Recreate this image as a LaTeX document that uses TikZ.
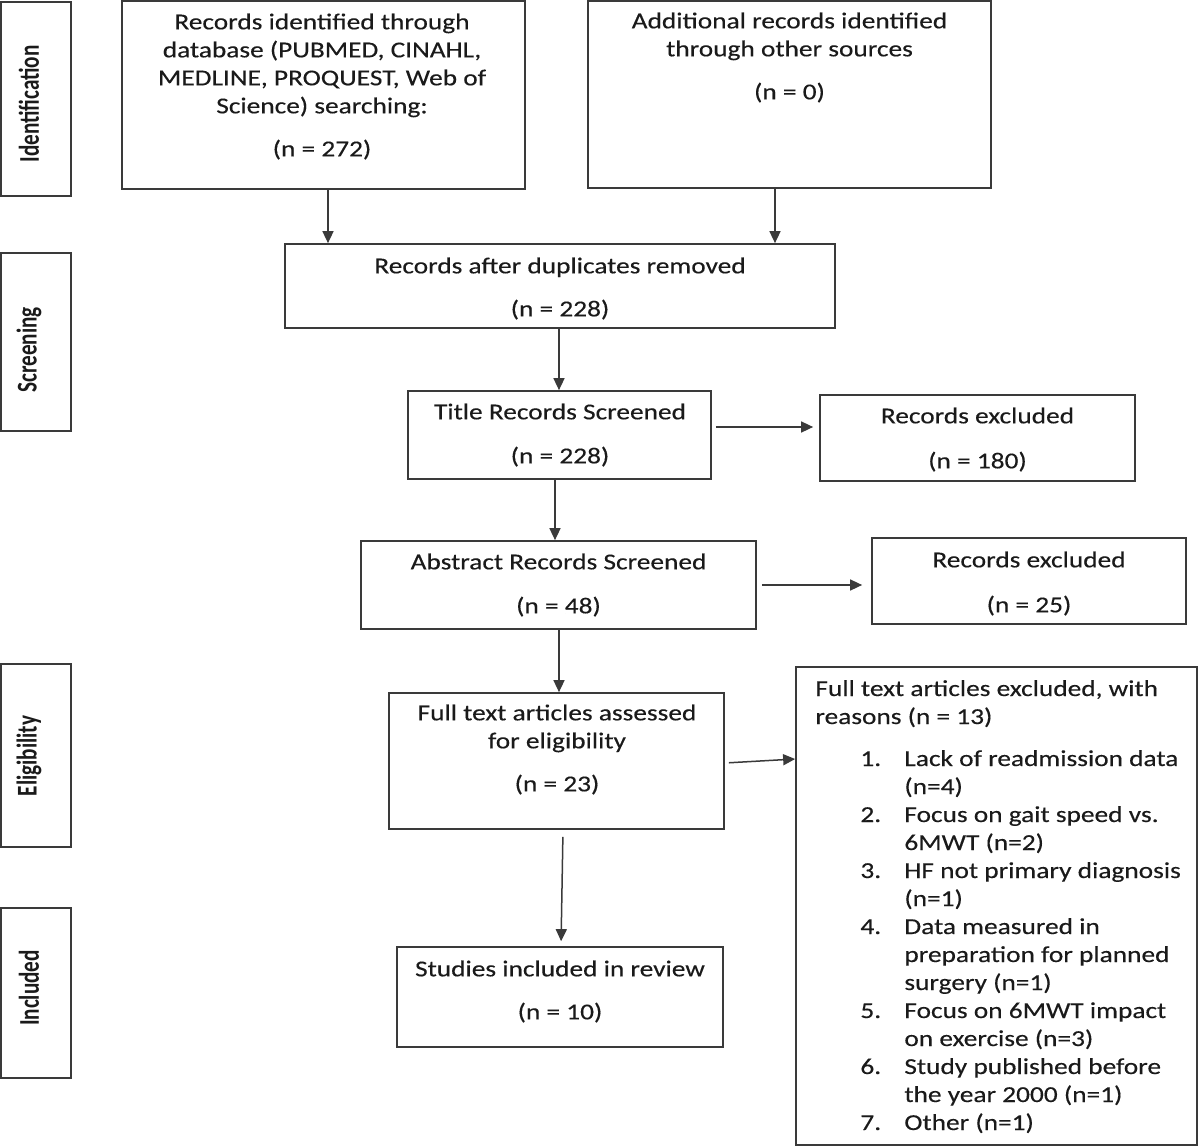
\documentclass[tikz,border=0pt]{standalone}
\usepackage{graphicx}
\usepackage{fontspec}
\setmainfont{Carlito}[FakeStretch=1.2,FakeBold=0.3]
\newfontfamily\sidefont{Carlito}
\usetikzlibrary{arrows.meta,fit}
\definecolor{linec}{HTML}{3A3A3A}
\definecolor{textc}{HTML}{1A1A1A}
\begin{document}
\begin{tikzpicture}[x=0.5pt,y=-0.5pt,
  box/.style={draw=linec, line width=0.85pt, inner sep=0pt},
  side/.style={draw=linec, line width=1pt, inner sep=0pt},
  txt/.style={text=textc, align=center, inner sep=0pt, font=\fontsize{11.4}{14}\selectfont},
  txtl/.style={text=textc, inner sep=0pt, font=\fontsize{11.4}{14}\selectfont},
  sidetxt/.style={text=textc, inner sep=0pt, rotate=90, font=\sidefont\bfseries\fontsize{10.6}{12}\selectfont},
  arr/.style={draw=linec, line width=0.75pt, -{Triangle[length=6pt,width=5.5pt]}}]
\path[use as bounding box] (0,0) rectangle (1200,1146);

% phase labels
\node[side, fit={(1,2)(71,196)}] (sid) {};
\node[sidetxt] (sid-t) at (29,104) {\scalebox{1}[1.35]{Identification}};
\node[side, fit={(1,253)(71,431)}] (scr) {};
\node[sidetxt] (scr-t) at (29,350) {\scalebox{1}[1.35]{Screening}};
\node[side, fit={(1,664)(71,847)}] (eli) {};
\node[sidetxt] (eli-t) at (29,756) {\scalebox{1}[1.35]{Eligibility}};
\node[side, fit={(1,908)(71,1078)}] (inc) {};
\node[sidetxt] (inc-t) at (29,988) {\scalebox{1}[1.35]{Included}};

% boxes
\node[box, fit={(122,1)(525,189)}] (db) {};
\node[box, fit={(588,1)(991,188)}] (add) {};
\node[box, fit={(285,244)(835,328)}] (dup) {};
\node[box, fit={(408,391)(711,479)}] (title) {};
\node[box, fit={(820,395)(1135,481)}] (ex1) {};
\node[box, fit={(361,541)(756,629)}] (abs) {};
\node[box, fit={(872,538)(1186,624)}] (ex2) {};
\node[box, fit={(389,693)(724,829)}] (full) {};
\node[box, fit={(796,667)(1197,1145)}] (ex3) {};
\node[box, fit={(397,947)(723,1047)}] (stud) {};

% texts
\node[txt] (db-t) at (322,86.5) {Records identified through\\database (PUBMED, CINAHL,\\MEDLINE, PROQUEST, Web of\\Science) searching:\\[7.5pt](n = 272)};
\node[txt] (add-t) at (789.5,57.5) {Additional records identified\\through other sources\\[7.5pt](n = 0)};
\node[txt] (dup-t) at (560,288.5) {Records after duplicates removed\\[7.5pt](n = 228)};
\node[txt] (title-t) at (560,435) {Title Records Screened\\[8pt](n = 228)};
\node[txt] (abs-t) at (558.5,585) {Abstract Records Screened\\[8pt](n = 48)};
\node[txt] (ex1-t) at (977.5,439.5) {Records excluded\\[8.5pt](n = 180)};
\node[txt] (ex2-t) at (1029,583.5) {Records excluded\\[8.5pt](n = 25)};
\node[txt] (full-t) at (557,749.5) {Full text articles assessed\\for eligibility\\[7.5pt](n = 23)};
\node[txt] (stud-t) at (560,991.5) {Studies included in review\\[7.5pt](n = 10)};
\node[txtl, anchor=base west] (ex3-t) at (815,696) {%
\begin{tabular}[t]{@{}p{22.5pt}@{}p{22pt}@{}l@{}}
\multicolumn{3}{@{}l@{}}{Full text articles excluded, with}\\
\multicolumn{3}{@{}l@{}}{reasons (n = 13)}\\[7pt]
& 1. & Lack of readmission data\\
& & (n=4)\\
& 2. & Focus on gait speed vs.\\
& & 6MWT (n=2)\\
& 3. & HF not primary diagnosis\\
& & (n=1)\\
& 4. & Data measured in\\
& & preparation for planned\\
& & surgery (n=1)\\
& 5. & Focus on 6MWT impact\\
& & on exercise (n=3)\\
& 6. & Study published before\\
& & the year 2000 (n=1)\\
& 7. & Other (n=1)
\end{tabular}};

% connectors
\coordinate (k1) at (328,0);
\coordinate (k2) at (775,0);
\coordinate (k3) at (559,0);
\coordinate (k4) at (555,0);
\coordinate (k5) at (0,427);
\coordinate (k6) at (0,585);
\coordinate (k7) at (559,0);
\coordinate (k8a) at (563,0);
\coordinate (k8b) at (561,0);
\coordinate (k9a) at (0,763);
\coordinate (k9b) at (0,759);
\draw[arr] (db.south -| k1) -- (dup.north -| k1);
\draw[arr] (add.south -| k2) -- (dup.north -| k2);
\draw[arr] (dup.south -| k3) -- (title.north -| k3);
\draw[arr] (title.south -| k4) -- (abs.north -| k4);
\draw[arr, shorten <=2pt, shorten >=3pt] (title.east |- k5) -- (ex1.west |- k5);
\draw[arr, shorten <=2.5pt, shorten >=4.5pt] (abs.east |- k6) -- (ex2.west |- k6);
\draw[arr] (abs.south -| k7) -- (full.north -| k7);
\draw[arr, shorten <=3.5pt, shorten >=2.5pt] (full.south -| k8a) -- (stud.north -| k8b);
\draw[arr, shorten <=2pt] (full.east |- k9a) -- (ex3.west |- k9b);
\end{tikzpicture}
\end{document}
